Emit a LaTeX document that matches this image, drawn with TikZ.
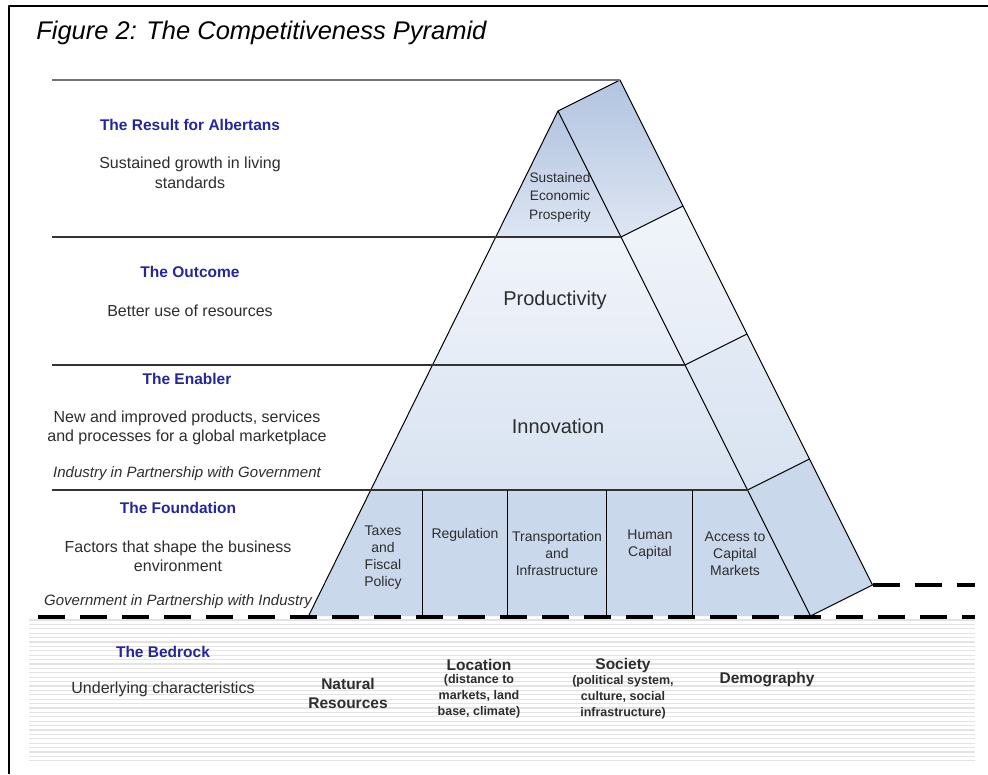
\documentclass[tikz,border=0pt]{standalone}
\usepackage{fontspec}
\setmainfont{Liberation Sans}
\usetikzlibrary{positioning}

\definecolor{headblue}{RGB}{38,38,152}
\definecolor{txtgray}{RGB}{45,45,45}
\definecolor{faceA}{RGB}{178,196,224}
\definecolor{faceAlo}{RGB}{222,230,243}
\definecolor{faceB}{RGB}{240,244,250}
\definecolor{faceBlo}{RGB}{230,236,246}
\definecolor{faceC}{RGB}{226,234,245}
\definecolor{faceClo}{RGB}{217,227,241}
\definecolor{faceD}{RGB}{202,216,235}

\begin{document}
\begin{tikzpicture}[
            x = 1pt, y = -1pt, % pixel grid of the original figure
            line join = round,
            semithick % line style
        ]

        \tikzstyle{heading}=[font=\fontsize{15.5}{18}\selectfont\bfseries, text=headblue]
        \tikzstyle{desc}=[font=\fontsize{16}{20}\selectfont, text=txtgray, align=center]
        \tikzstyle{partner}=[font=\fontsize{15}{18}\selectfont\itshape, text=txtgray]
        \tikzstyle{tier}=[font=\fontsize{20}{24}\selectfont, text=txtgray, align=center]
        \tikzstyle{factor}=[font=\fontsize{14}{17}\selectfont, text=txtgray, align=center, inner sep=1pt]
        \tikzstyle{rock}=[font=\fontsize{15.5}{19}\selectfont\bfseries, text=txtgray, align=center, inner sep=1pt]
        \tikzstyle{rocksub}=[font=\fontsize{12.5}{16}\selectfont\bfseries, text=txtgray, align=center, inner sep=1pt]
        \tikzstyle{edge}=[draw=black, line width=1pt]
        \tikzstyle{level}=[draw=black!80, line width=1.3pt]
        \tikzstyle{ground}=[draw=black, line width=3.2pt, dash pattern=on 27pt off 15pt]
        \tikzstyle{stripe}=[draw=black!11, line width=1.2pt]

        \useasboundingbox (0,0) rectangle (988,774);

        % frame
        \draw[line width=2pt] (9,774) -- (9,6) -- (988,6);

        % bedrock stripes
        \foreach \y in {620,624.4,...,764}
            \draw[stripe] (29,\y) -- (975,\y);

        % corners of the pyramid
        \coordinate (apex) at (558,111);
        \coordinate (backtop) at (620,80);
        \coordinate (l1) at (495.8,237);   \coordinate (r1) at (621,237);   \coordinate (b1) at (683,206);
        \coordinate (l2) at (432.5,365);   \coordinate (r2) at (685,365);   \coordinate (b2) at (747,334);
        \coordinate (l3) at (370.8,490);   \coordinate (r3) at (747.5,490); \coordinate (b3) at (809.5,459);
        \coordinate (l4) at (308.5,616);   \coordinate (r4) at (810.5,616); \coordinate (b4) at (872.5,585);

        % front faces
        \shade[top color=faceA, bottom color=faceAlo] (apex) -- (r1) -- (l1) -- cycle;
        \shade[top color=faceB, bottom color=faceBlo] (l1) -- (r1) -- (r2) -- (l2) -- cycle;
        \shade[top color=faceC, bottom color=faceClo] (l2) -- (r2) -- (r3) -- (l3) -- cycle;
        \fill[faceD] (l3) -- (r3) -- (r4) -- (l4) -- cycle;

        % side faces
        \shade[top color=faceA, bottom color=faceAlo] (apex) -- (backtop) -- (b1) -- (r1) -- cycle;
        \shade[top color=faceB, bottom color=faceBlo] (r1) -- (b1) -- (b2) -- (r2) -- cycle;
        \shade[top color=faceC, bottom color=faceClo] (r2) -- (b2) -- (b3) -- (r3) -- cycle;
        \fill[faceD] (r3) -- (b3) -- (b4) -- (r4) -- cycle;

        % outlines
        \draw[edge] (l4) -- (apex) -- (r4) -- (b4) -- (backtop) -- (apex);
        \draw[edge] (r1) -- (b1);
        \draw[edge] (r2) -- (b2);
        \draw[edge] (r3) -- (b3);

        % levels
        \draw[level, draw=black!55, line width=2pt] (52,80) -- (backtop);
        \draw[level] (52,237) -- (r1);
        \draw[level] (52,365) -- (r2);
        \draw[level] (52,490) -- (r3);

        % foundation columns
        \foreach \x/\n in {422/c1, 507/c2, 606/c3, 692/c4} {
            \coordinate (\n t) at (\x,490);
            \coordinate (\n b) at (\x,616);
            \draw[edge] (\n t) -- (\n b);
        }

        % ground lines
        \coordinate (g1) at (38,617);
        \coordinate (g2) at (975,617);
        \coordinate (g3) at (975,585);
        \draw[ground] (g1) -- (g2);
        \draw[ground] (b4) -- (g3);

        % title
        \node[anchor=base west, font=\fontsize{25.5}{30}\selectfont\itshape, inner sep=0pt] (title) at (36,39) {Figure 2: The Competitiveness Pyramid};

        % left column
        \node[heading] (reshead) at (190,125) {The Result for Albertans};
        \node[desc] (resdesc) at (190,173) {Sustained growth in living\\standards};

        \node[heading] (outhead) at (190,272) {The Outcome};
        \node[desc] (outdesc) at (190,311) {Better use of resources};

        \node[heading] (enhead) at (187,379) {The Enabler};
        \node[desc, font=\fontsize{16}{19}\selectfont] (endesc) at (187,427.5) {New and improved products, services\\and processes for a global marketplace};
        \node[partner] (enpart) at (187,474) {Industry in Partnership with Government};

        \node[heading] (fohead) at (178,508) {The Foundation};
        \node[desc, font=\fontsize{16}{19}\selectfont] (fodesc) at (178,556.5) {Factors that shape the business\\environment};
        \node[partner] (fopart) at (178,602) {Government in Partnership with Industry};

        \node[heading] (bedhead) at (163,652) {The Bedrock};
        \node[desc] (beddesc) at (163,689) {Underlying characteristics};

        % pyramid labels
        \node[factor, font=\fontsize{13.7}{18.5}\selectfont] (prosper) at (560,197) {Sustained\\Economic\\Prosperity};
        \node[tier] (product) at (555,300) {Productivity};
        \node[tier] (innov) at (558,426) {Innovation};

        \node[factor] (taxes) at (383,557.5) {Taxes\\and\\Fiscal\\Policy};
        \node[factor] (regul) at (465,535) {Regulation};
        \node[factor] (transp) at (557,553.5) {Transportation\\and\\Infrastructure};
        \node[factor] (human) at (650,545) {Human\\Capital};
        \node[factor] (access) at (735,553.5) {Access to\\Capital\\Markets};

        % bedrock factors
        \node[rock] (natural) at (348,693) {Natural\\Resources};
        \node[rock] (location) at (479,665) {Location};
        \node[rocksub, below=1pt of location] (locsub) {(distance to\\markets, land\\base, climate)};
        \node[rock] (society) at (623,665) {Society};
        \node[rocksub, below=1pt of society] (socsub) {(political system,\\culture, social\\infrastructure)};
        \node[rock] (demog) at (767,680) {Demography};
    \end{tikzpicture}
\end{document}
